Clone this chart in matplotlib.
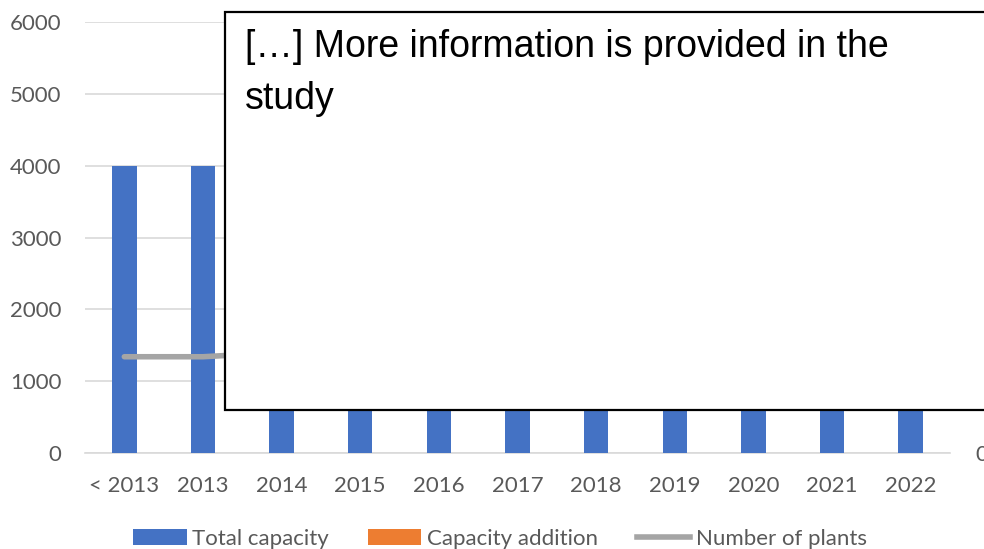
import matplotlib
matplotlib.use("Agg")
import matplotlib.pyplot as plt
from matplotlib.patches import Rectangle, Patch
from matplotlib.lines import Line2D
import numpy as np

categories = ["< 2013", "2013", "2014", "2015", "2016", "2017", "2018", "2019", "2020", "2021", "2022"]
total_capacity = [4000, 4000, 4150, 4300, 4450, 4600, 4750, 4900, 5050, 5200, 5350]
capacity_addition = [0, 0, 150, 150, 150, 150, 150, 150, 150, 150, 150]
number_of_plants = [67, 67, 70, 73, 76, 79, 82, 85, 88, 91, 94]
left_ticks = [0, 1000, 2000, 3000, 4000, 5000, 6000]
right_ticks = [0]
note_text = "[…] More information is provided in the\nstudy"

BLUE = "#4472C4"
ORANGE = "#ED7D31"
GRAY = "#A5A5A5"
GRID = "#D9D9D9"
TXT = "#595959"
TICKFONT = "Lato"
FS = 16

W, H = 984, 549
fig = plt.figure(figsize=(W / 100, H / 100), dpi=100)
ax = fig.add_axes([85 / W, 1 - 453 / H, (950 - 85) / W, (453 - 22) / H])

x = np.arange(len(categories))
bw = 0.31
ax.bar(x, capacity_addition, width=bw, color=ORANGE, zorder=2)
ax.bar(x, total_capacity, width=bw, color=BLUE, zorder=3)

ax.set_xlim(-0.5, len(categories) - 0.5)
ax.set_ylim(0, 6000)
ax.set_yticks(left_ticks)
ax.set_xticks(x)
ax.set_xticklabels(categories)
ax.grid(axis="y", color=GRID, linewidth=1.2, zorder=0)
ax.set_axisbelow(True)
for s in ["top", "right", "left"]:
    ax.spines[s].set_visible(False)
ax.spines["bottom"].set_color(GRID)
ax.spines["bottom"].set_linewidth(1.2)
ax.tick_params(axis="both", length=0, labelcolor=TXT, labelsize=FS)
ax.tick_params(axis="y", pad=17)
ax.tick_params(axis="x", pad=16.5)
for lab in ax.get_xticklabels() + ax.get_yticklabels():
    lab.set_fontfamily(TICKFONT)

ax2 = ax.twinx()
ax2.plot(x, number_of_plants, color=GRAY, linewidth=4, solid_capstyle="round", zorder=4)
ax2.set_ylim(0, 300)
ax2.set_yticks(right_ticks)
for s in ax2.spines.values():
    s.set_visible(False)
ax2.tick_params(axis="y", length=0, labelcolor=TXT, labelsize=FS, pad=18)
for lab in ax2.get_yticklabels():
    lab.set_fontfamily(TICKFONT)

handles = [
    Patch(facecolor=BLUE, edgecolor="none", label="Total capacity"),
    Patch(facecolor=ORANGE, edgecolor="none", label="Capacity addition"),
    Line2D([0], [0], color=GRAY, linewidth=4, label="Number of plants"),
]
leg = fig.legend(handles=handles, loc="center", bbox_to_anchor=(0.5 + 8 / W, 1 - 539 / H), ncol=3,
                 frameon=False, prop={"family": TICKFONT, "size": FS},
                 handlelength=2.4, handletextpad=0.25, columnspacing=1.75)
for t in leg.get_texts():
    t.set_color(TXT)

# overlay box
rect = Rectangle((225 / W, 1 - 410 / H), (1000 - 225) / W, (410 - 12) / H,
                 transform=fig.transFigure, facecolor="white", edgecolor="black",
                 linewidth=1.6, zorder=10, clip_on=False)
fig.add_artist(rect)
fig.text(245 / W, 1 - 29 / H, note_text, ha="left", va="top", fontsize=27,
         family="Liberation Sans", linespacing=1.58, zorder=11, color="black")

fig.savefig("out.png", dpi=100)
